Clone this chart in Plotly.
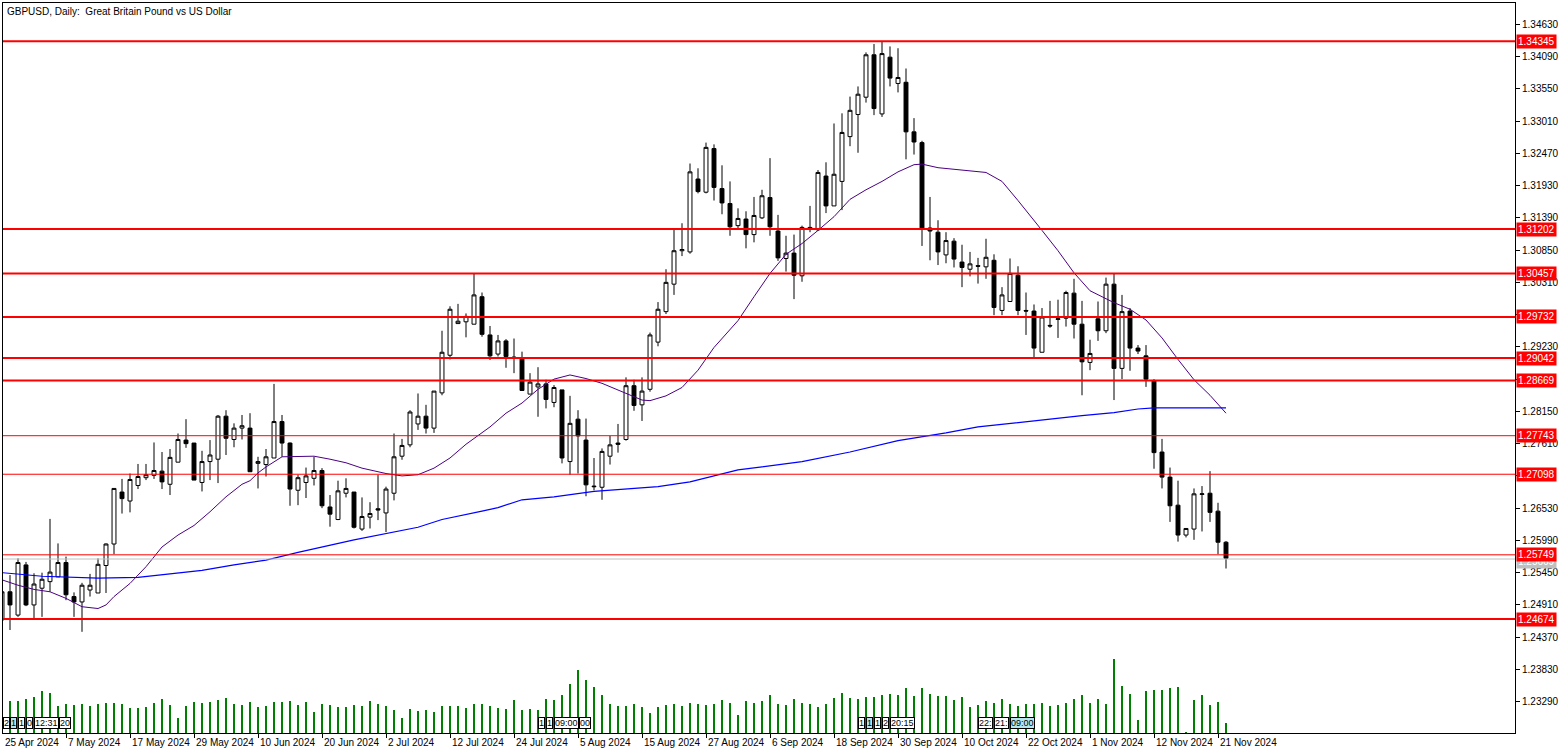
import plotly.graph_objects as go

# ---------------- data ----------------
opens = [1.2466,1.2513,1.2474,1.2558,1.2491,1.2519,1.2530,1.2538,1.2562,1.2505,
         1.2496,1.2516,1.2511,1.2557,1.2593,1.2680,1.2665,1.2691,1.2704,1.2708,
         1.2715,1.2693,1.2730,1.2767,1.2762,1.2696,1.2731,1.2735,1.2807,1.2768,
         1.2787,1.2787,1.2728,1.2726,1.2737,1.2798,1.2762,1.2683,1.2696,1.2703,
         1.2716,1.2655,1.2634,1.2678,1.2680,1.2618,1.2638,1.2652,1.2645,1.2678,
         1.2740,1.2759,1.2794,1.2807,1.2787,1.2846,1.2909,1.2962,1.2965,1.2961,
         1.3007,1.2943,1.2911,1.2933,1.2906,1.2903,1.2844,1.2856,1.2861,1.2830,
         1.2851,1.2731,1.2802,1.2767,1.2690,1.2688,1.2740,1.2762,1.2768,1.2858,
         1.2826,1.2852,1.2931,1.2982,1.3028,1.3084,1.3082,1.3204,1.3182,1.3255,
         1.3188,1.3163,1.3126,1.3137,1.3111,1.3139,1.3173,1.3117,1.3071,1.3080,
         1.3042,1.3123,1.3119,1.3209,1.3159,1.3200,1.3275,1.3312,1.3341,1.3412,
         1.3313,1.3408,1.3364,1.3366,1.3283,1.3265,1.3122,1.3115,1.3077,1.3100,
         1.3065,1.3053,1.3059,1.3057,1.3068,1.2984,1.2999,1.3043,1.2984,1.2983,
         1.2914,1.2959,1.2969,1.2971,1.3013,1.2961,1.2897,1.2970,1.2950,1.3028,
         1.2887,1.2983,1.2921,1.2908,1.2866,1.2747,1.2705,1.2658,1.2608,1.2618,
         1.2676,1.2678,1.2648,1.2596]
highs = [1.2521,1.2541,1.2569,1.2563,1.2544,1.2545,1.2635,1.2594,1.2572,1.2512,
         1.2528,1.2543,1.2569,1.2594,1.2686,1.2702,1.2711,1.2727,1.2727,1.2763,
         1.2747,1.2752,1.2778,1.2802,1.2762,1.2749,1.2767,1.2809,1.2817,1.2795,
         1.2809,1.2812,1.2739,1.2752,1.2861,1.2809,1.2763,1.2709,1.2721,1.2739,
         1.2720,1.2675,1.2699,1.2703,1.2680,1.2671,1.2663,1.2709,1.2689,1.2778,
         1.2769,1.2817,1.2845,1.2826,1.2849,1.2950,1.2991,1.2995,1.2979,1.3046,
         1.3014,1.2958,1.2943,1.2936,1.2937,1.2915,1.2879,1.2889,1.2868,1.2859,
         1.2851,1.2841,1.2817,1.2803,1.2737,1.2753,1.2774,1.2794,1.2872,1.2868,
         1.2872,1.2947,1.2998,1.3053,1.3120,1.3130,1.3230,1.3222,1.3265,1.3262,
         1.3227,1.3200,1.3155,1.3150,1.3174,1.3186,1.3239,1.3144,1.3109,1.3111,
         1.3126,1.3159,1.3219,1.3232,1.3297,1.3314,1.3342,1.3359,1.3416,1.3430,
         1.3434,1.3426,1.3423,1.3389,1.3306,1.3268,1.3174,1.3135,1.3115,1.3105,
         1.3094,1.3082,1.3072,1.3104,1.3078,1.3023,1.3071,1.3058,1.3014,1.2994,
         1.2988,1.3000,1.3002,1.3017,1.3037,1.3000,1.2935,1.2999,1.3039,1.3046,
         1.3010,1.2988,1.2926,1.2926,1.2869,1.2769,1.2721,1.2699,1.2619,1.2686,
         1.2690,1.2715,1.2662,1.2598]
lows = [1.2452,1.2449,1.2471,1.2489,1.2466,1.2471,1.2513,1.2538,1.2499,1.2471,
        1.2446,1.2505,1.2511,1.2511,1.2576,1.2644,1.2646,1.2685,1.2700,1.2702,
        1.2685,1.2675,1.2730,1.2754,1.2700,1.2681,1.2700,1.2695,1.2742,1.2755,
        1.2768,1.2714,1.2686,1.2706,1.2737,1.2739,1.2657,1.2658,1.2670,1.2691,
        1.2653,1.2622,1.2633,1.2671,1.2619,1.2615,1.2619,1.2633,1.2613,1.2666,
        1.2734,1.2755,1.2784,1.2778,1.2779,1.2842,1.2902,1.2962,1.2939,1.2961,
        1.2940,1.2901,1.2907,1.2888,1.2879,1.2850,1.2844,1.2806,1.2820,1.2822,
        1.2728,1.2709,1.2711,1.2673,1.2683,1.2667,1.2726,1.2746,1.2766,1.2816,
        1.2799,1.2848,1.2924,1.2978,1.3010,1.3075,1.3079,1.3180,1.3180,1.3168,
        1.3145,1.3109,1.3122,1.3088,1.3098,1.3137,1.3109,1.3067,1.3049,1.3003,
        1.3032,1.3115,1.3117,1.3147,1.3159,1.3152,1.3259,1.3248,1.3332,1.3311,
        1.3308,1.3359,1.3349,1.3237,1.3245,1.3092,1.3068,1.3060,1.3063,1.3056,
        1.3023,1.3041,1.3029,1.3037,1.2976,1.2976,1.2999,1.2976,1.2943,1.2905,
        1.2914,1.2955,1.2938,1.2957,1.2937,1.2842,1.2884,1.2933,1.2946,1.2834,
        1.2869,1.2883,1.2911,1.2856,1.2719,1.2686,1.2630,1.2597,1.2604,1.2600,
        1.2614,1.2630,1.2576,1.2552]
closes = [1.2513,1.2491,1.2562,1.2491,1.2526,1.2534,1.2546,1.2562,1.2508,1.2496,
          1.2524,1.2524,1.2559,1.2593,1.2686,1.2669,1.2701,1.2706,1.2709,1.2716,
          1.2697,1.2738,1.2768,1.2761,1.2700,1.2731,1.2742,1.2807,1.2770,1.2787,
          1.2791,1.2714,1.2731,1.2739,1.2798,1.2762,1.2685,1.2704,1.2707,1.2716,
          1.2657,1.2643,1.2682,1.2686,1.2621,1.2639,1.2644,1.2650,1.2685,1.2739,
          1.2758,1.2814,1.2807,1.2787,1.2849,1.2914,1.2986,1.2966,1.2974,1.3010,
          1.2944,1.2908,1.2933,1.2907,1.2905,1.2850,1.2864,1.2861,1.2835,1.2855,
          1.2737,1.2795,1.2774,1.2692,1.2689,1.2748,1.2759,1.2760,1.2858,1.2825,
          1.2849,1.2943,1.2986,1.3031,1.3084,1.3086,1.3216,1.3183,1.3257,1.3190,
          1.3164,1.3124,1.3138,1.3111,1.3143,1.3176,1.3124,1.3072,1.3080,1.3043,
          1.3123,1.3120,1.3215,1.3159,1.3212,1.3282,1.3319,1.3346,1.3412,1.3322,
          1.3414,1.3373,1.3374,1.3283,1.3266,1.3122,1.3117,1.3082,1.3101,1.3070,
          1.3056,1.3062,1.3058,1.3073,1.2989,1.3010,1.3046,1.2984,1.2983,1.2921,
          1.2973,1.2958,1.2970,1.3014,1.2961,1.2898,1.2912,1.2950,1.3028,1.2887,
          1.2982,1.2921,1.2916,1.2869,1.2746,1.2705,1.2657,1.2608,1.2619,1.2677,
          1.2677,1.2646,1.2596,1.2569]
tick_volume = [90,95,95,101,108,125,120,81,86,83,88,82,88,90,90,86,75,76,78,90,
               101,83,45,81,92,90,93,99,106,86,84,92,78,81,92,92,95,84,92,62,
               86,83,77,77,84,80,95,88,80,70,44,73,65,70,62,80,80,80,75,86,
               86,80,75,71,98,68,73,68,103,98,113,147,189,159,138,113,86,81,82,86,
               78,61,78,84,86,81,90,86,83,88,98,91,53,95,91,95,113,86,83,101,
               91,86,78,86,105,121,104,101,107,107,113,118,113,135,110,135,118,111,111,98,
               108,78,83,95,91,101,88,81,86,86,91,81,83,91,103,113,91,101,86,222,
               141,118,40,125,130,130,135,138,3,98,113,83,93,30]

bar_index = list(range(len(opens)))

date_label_index = [0, 8, 16, 24, 32, 40, 48, 56, 64, 72, 80, 88, 96, 104, 112, 120, 128, 136, 144, 152]
date_labels = ["25 Apr 2024", "7 May 2024", "17 May 2024", "29 May 2024", "10 Jun 2024",
               "20 Jun 2024", "2 Jul 2024", "12 Jul 2024", "24 Jul 2024", "5 Aug 2024",
               "15 Aug 2024", "27 Aug 2024", "6 Sep 2024", "18 Sep 2024", "30 Sep 2024",
               "10 Oct 2024", "22 Oct 2024", "1 Nov 2024", "12 Nov 2024", "21 Nov 2024"]

price_ticks = [1.23290, 1.23830, 1.24370, 1.24910, 1.25450, 1.25990, 1.26530, 1.27070,
               1.27610, 1.28150, 1.28690, 1.29230, 1.29770, 1.30310, 1.30850, 1.31390,
               1.31930, 1.32470, 1.33010, 1.33550, 1.34090, 1.34630]
# tick texts fully hidden behind a level label in the reference are left blank
price_tick_text = ["1.23290", "1.23830", "1.24370", "1.24910", "1.25450", "1.25990", "1.26530", "",
                   "1.27610", "1.28150", "", "1.29230", "", "1.30310", "1.30850", "1.31390",
                   "1.31930", "1.32470", "1.33010", "1.33550", "1.34090", "1.34630"]

# purple MA
ma_purple_index = [0,2,4,6,8,10,12,13,14,16,18,20,22,24,26,28,30,31,32,33,35,39,41,43,45,48,50,52,54,56,
                   58,60,61,63,65,67,69,71,73,75,77,80,81,83,85,87,89,91,92,94,96,98,100,102,104,106,108,
                   110,112,114,115,117,120,123,125,127,130,132,134,136,139,141,143,145,147,149,151,153]
ma_purple = [1.2533,1.2524,1.2517,1.2513,1.2502,1.2488,1.2485,1.2491,1.2505,1.2527,1.2555,1.2588,1.2608,
             1.2624,1.2647,1.2672,1.2693,1.2699,1.2712,1.2722,1.2739,1.2740,1.2735,1.2729,1.2720,1.2711,
             1.2707,1.2709,1.2720,1.2737,1.2760,1.2780,1.2789,1.2812,1.2829,1.2852,1.2869,1.2876,1.2870,
             1.2862,1.2851,1.2834,1.2833,1.2841,1.2855,1.2884,1.2922,1.2952,1.2967,1.3007,1.3046,1.3078,
             1.3096,1.3118,1.3141,1.3170,1.3186,1.3200,1.3216,1.3228,1.3229,1.3223,1.3219,1.3215,1.3200,
             1.3168,1.3118,1.3084,1.3047,1.3017,1.2997,1.2986,1.2968,1.2938,1.2902,1.2868,1.2842,1.2812]

# blue MA
ma_blue_index = [0,5,12,17,21,25,29,33,37,44,52,55,60,62,65,69,74,78,82,86,90,92,100,106,112,118,
                 122,126,131,135,139,142,144,153]
ma_blue = [1.2545,1.2539,1.2536,1.2537,1.2543,1.2549,1.2558,1.2566,1.2579,1.2600,1.2621,1.2634,1.2648,
           1.2654,1.2667,1.2672,1.2681,1.2685,1.2689,1.2697,1.2711,1.2717,1.2731,1.2747,1.2766,1.2779,
           1.2789,1.2795,1.2802,1.2808,1.2813,1.2819,1.2821,1.2821]

level_prices = [1.34345, 1.31202, 1.30457, 1.29732, 1.29042, 1.28669, 1.27743, 1.27098, 1.25749, 1.24674]
level_labels = ["1.34345", "1.31202", "1.30457", "1.29732", "1.29042", "1.28669", "1.27743", "1.27098", "1.25749", "1.24674"]
level_thick = [True, True, True, True, True, True, False, False, False, True]
bid_price = 1.25679
bid_label = "1.25669"

# ---------------- layout geometry ----------------
W, H = 1568, 754
ML, MR, MT, MB = 3, 53, 3, 21
PW = W - ML - MR
PH = H - MT - MB
FONT = "Liberation Sans, Arial, sans-serif"

x_lo = (ML - 2) / 8.0
x_hi = x_lo + PW / 8.0
y_per_px = 0.00016741
y_top = 1.34987
y_bot = y_top - PH * y_per_px

fig = go.Figure()

fig.add_trace(go.Bar(x=bar_index, y=tick_volume, yaxis="y2", width=0.14,
                     marker=dict(color="#008000", line=dict(width=0)), hoverinfo="skip",
                     showlegend=False))

fig.add_trace(go.Candlestick(x=bar_index, open=opens, high=highs, low=lows, close=closes,
                             increasing=dict(line=dict(color="black", width=1), fillcolor="white"),
                             decreasing=dict(line=dict(color="black", width=1), fillcolor="black"),
                             whiskerwidth=0, showlegend=False))

fig.add_trace(go.Scatter(x=ma_purple_index, y=ma_purple, mode="lines",
                         line=dict(color="#4B0082", width=1), showlegend=False, hoverinfo="skip"))
fig.add_trace(go.Scatter(x=ma_blue_index, y=ma_blue, mode="lines",
                         line=dict(color="#0000FF", width=1.2), showlegend=False, hoverinfo="skip"))

shapes = []
annotations = []

# bid line + label (drawn first so the red label covers it)
shapes.append(dict(type="line", xref="paper", x0=0, x1=1, yref="y", y0=bid_price, y1=bid_price,
                   line=dict(color="#C0C0C0", width=1), layer="above"))
annotations.append(dict(x=1, xref="paper", xanchor="left", xshift=1, y=bid_price, yref="y",
                        yanchor="middle", yshift=-2, text=bid_label, showarrow=False,
                        bgcolor="#C0C0C0", font=dict(family=FONT, size=10, color="white"),
                        borderpad=1))

for p, lab, thick in zip(level_prices, level_labels, level_thick):
    shapes.append(dict(type="line", xref="paper", x0=0, x1=1, yref="y", y0=p, y1=p,
                       line=dict(color="#FF0000", width=2 if thick else 1), layer="above"))
    annotations.append(dict(x=1, xref="paper", xanchor="left", xshift=1, y=p, yref="y",
                            yanchor="middle", text=lab, showarrow=False, bgcolor="#FF0000",
                            font=dict(family=FONT, size=10, color="white"), borderpad=1))

# date labels (left-aligned at tick), placed in paper units so the first one is kept
for xi, lab in zip(date_label_index, date_labels):
    xp = max(0.0, (xi - x_lo) / (x_hi - x_lo))
    annotations.append(dict(x=xp, xref="paper", xanchor="left", y=0, yref="paper", yanchor="top",
                            yshift=-2, text=lab, showarrow=False,
                            font=dict(family=FONT, size=10, color="black")))

# title
annotations.append(dict(x=(5 - ML) / PW, xref="paper", xanchor="left", y=1, yref="paper",
                        yanchor="top", yshift=-1, text="GBPUSD, Daily:  Great Britain Pound vs US Dollar",
                        showarrow=False, font=dict(family=FONT, size=10, color="black")))

# event marker boxes near the bottom
events = [(3, "2", "white"), (10, "1", "#B4E6F0"), (18, "1", "white"), (26, "0", "white"),
          (34, "12:31", "white"), (59, "20", "white"),
          (538, "1", "white"), (546, "1", "white"), (554, "09:00", "white"), (579, "00", "white"),
          (858, "1", "white"), (866, "1", "#B4E6F0"), (874, "1", "white"), (882, "2", "white"),
          (890, "20:15", "white"),
          (978, "22:", "white"), (994, "21:", "white"), (1010, "09:00", "#B4E6F0")]
for px, txt, bg in events:
    annotations.append(dict(x=(px - ML) / PW, xref="paper", xanchor="left", y=(733 - 723) / PH,
                            yref="paper", yanchor="middle", text=txt, showarrow=False,
                            bgcolor=bg, bordercolor="black", borderwidth=1, borderpad=0,
                            font=dict(family=FONT, size=9, color="black")))

fig.update_layout(
    width=W, height=H,
    margin=dict(l=ML, r=MR, t=MT, b=MB, pad=0),
    paper_bgcolor="white", plot_bgcolor="white",
    showlegend=False,
    shapes=shapes, annotations=annotations,
    font=dict(family=FONT, size=10, color="black"),
    xaxis=dict(range=[x_lo, x_hi], showgrid=False, zeroline=False, showline=True, linecolor="black",
               linewidth=1, mirror=True, ticks="outside", ticklen=4, tickcolor="black",
               tickvals=date_label_index, showticklabels=False,
               rangeslider=dict(visible=False), fixedrange=True),
    yaxis=dict(range=[y_bot, y_top], side="right", showgrid=False, zeroline=False, showline=True,
               linecolor="black", linewidth=1, mirror=True, ticks="outside", ticklen=4,
               tickcolor="black", tickvals=price_ticks, ticktext=price_tick_text,
               tickfont=dict(family=FONT, size=10, color="black")),
    yaxis2=dict(overlaying="y", range=[0, 3 * PH], visible=False, fixedrange=True),
    bargap=0,
)

fig.write_html("out.html")
